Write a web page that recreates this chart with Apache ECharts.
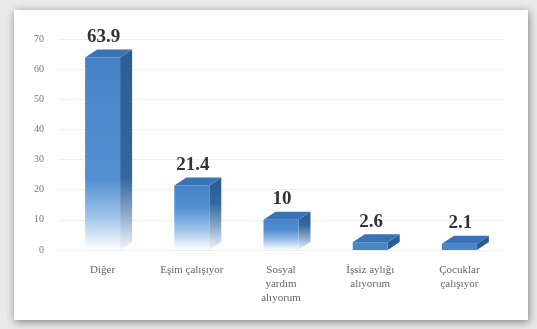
<!DOCTYPE html>
<html>
<head>
<meta charset="utf-8">
<script src="https://cdn.jsdelivr.net/npm/echarts@6/dist/echarts.min.js"></script>
<style>
  html, body { margin: 0; padding: 0; background: #e9e9e9; }
  #main { width: 537px; height: 329px; }
</style>
</head>
<body>
<div id="main"></div>
<script>
// kategoriler ve değerler
const categories = ['Diğer', 'Eşim çalışıyor', 'Sosyal\nyardım\nalıyorum', 'İşsiz aylığı\nalıyorum', 'Çocuklar\nçalışıyor'];
const values = [63.9, 21.4, 10, 2.6, 2.1];
const yTicks = [0, 10, 20, 30, 40, 50, 60, 70];

const chart = echarts.init(document.getElementById('main'), null, { renderer: 'canvas' });

const FRONT_W = 35; // ön yüz genişliği
const DX = 12;      // derinlik (sağa)
const DY = 8;       // derinlik (yukarı)

function renderBox(params, api) {
  const idx = api.value(0);
  const val = api.value(1);
  const top = api.coord([idx, val]);
  const base = api.coord([idx, 0]);
  const x0 = top[0] - FRONT_W / 2;
  const x1 = top[0] + FRONT_W / 2;
  const yT = top[1];
  const yB = base[1];
  const h = yB - yT;

  let frontFill, sideFill;
  if (h > 20) {
    const fadeLen = Math.min(70, h * 0.65);
    const fadeStart = 1 - fadeLen / h;
    frontFill = new echarts.graphic.LinearGradient(0, 0, 0, 1, [
      { offset: 0, color: '#4683c6' },
      { offset: fadeStart, color: '#5391d3' },
      { offset: fadeStart + (1 - fadeStart) * 0.5, color: '#9cc1e8' },
      { offset: 1, color: '#ffffff' }
    ]);
    sideFill = new echarts.graphic.LinearGradient(0, 0, 0, 1, [
      { offset: 0, color: '#2c5c94' },
      { offset: fadeStart, color: '#33679f' },
      { offset: fadeStart + (1 - fadeStart) * 0.5, color: '#8aa8cc' },
      { offset: 1, color: '#f4f7fb' }
    ]);
  } else {
    frontFill = '#4a86c6';
    sideFill = '#2c5c94';
  }

  return {
    type: 'group',
    children: [
      {
        type: 'polygon',
        shape: { points: [[x1, yT], [x1 + DX, yT - DY], [x1 + DX, yB - DY], [x1, yB]] },
        style: { fill: sideFill }
      },
      {
        type: 'rect',
        shape: { x: x0, y: yT, width: FRONT_W, height: h },
        style: { fill: frontFill }
      },
      {
        type: 'polygon',
        shape: { points: [[x0, yT], [x0 + DX, yT - DY], [x1 + DX, yT - DY], [x1, yT]] },
        style: { fill: '#3a73b4' }
      },
      {
        type: 'text',
        style: {
          text: String(val),
          x: top[0] + 1,
          y: yT - DY - 3,
          align: 'center',
          verticalAlign: 'bottom',
          fill: '#333333',
          font: 'bold 19px "Liberation Serif", "DejaVu Serif", serif'
        }
      }
    ]
  };
}

const option = {
  backgroundColor: '#e9e9e9',
  animation: false,
  graphic: [
    {
      type: 'rect',
      shape: { x: 14, y: 10, width: 514, height: 310 },
      style: {
        fill: '#ffffff',
        shadowBlur: 8,
        shadowColor: 'rgba(0,0,0,0.45)',
        shadowOffsetX: 1,
        shadowOffsetY: 2
      },
      z: -10
    }
  ],
  grid: {
    left: 58,
    right: 33,
    top: 39,
    bottom: 79
  },
  xAxis: {
    type: 'category',
    data: categories,
    axisLine: { show: false },
    axisTick: { show: false },
    axisLabel: {
      interval: 0,
      margin: 13,
      color: '#666666',
      fontSize: 11,
      lineHeight: 14,
      fontFamily: '"Liberation Serif", "DejaVu Serif", serif'
    }
  },
  yAxis: {
    type: 'value',
    min: yTicks[0],
    max: yTicks[yTicks.length - 1],
    interval: 10,
    axisLine: { show: false },
    axisTick: { show: false },
    axisLabel: {
      margin: 14,
      color: '#777777',
      fontSize: 10,
      fontFamily: '"Liberation Serif", "DejaVu Serif", serif'
    },
    splitLine: { lineStyle: { color: '#efefef', width: 1 } }
  },
  series: [
    {
      type: 'custom',
      renderItem: renderBox,
      encode: { x: 0, y: 1 },
      data: values.map((v, i) => [i, v])
    }
  ]
};

chart.setOption(option);
</script>
</body>
</html>
